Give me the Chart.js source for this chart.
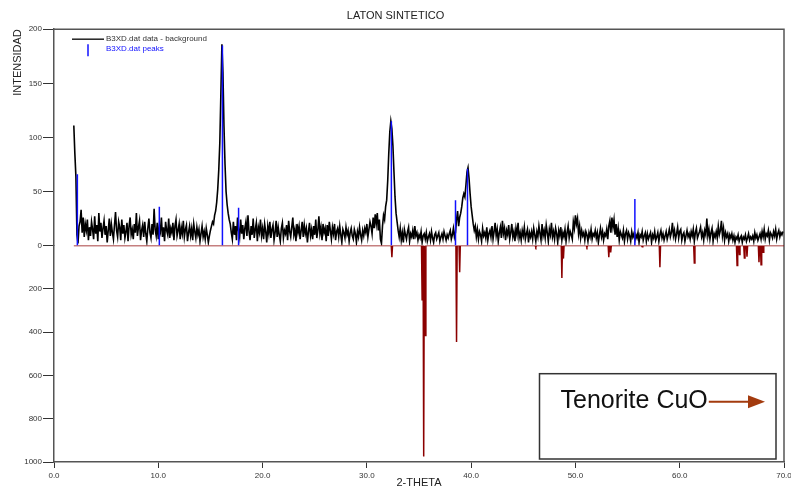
<!DOCTYPE html>
<html>
<head>
<meta charset="utf-8">
<title>LATON SINTETICO</title>
<script src="https://cdn.jsdelivr.net/npm/chart.js@4.4.1/dist/chart.umd.min.js"></script>
<style>
  html, body { margin: 0; padding: 0; background: #fff; }
  canvas { display: block; }
</style>
</head>
<body>
<canvas id="xrdChart" width="791" height="495"></canvas>
<script>
/* ---------- DATA ---------- */
// measured pattern (data - background) on a regular 2-theta grid, one row per degree
const thetaStart = 1.9;
const thetaStep = 0.1;
const bgIntensity = [
  111, 85, 64, 10, 2, 18, 22, 33, 12, 26,
  8, 20, 14, 24, 5, 17, 9, 22, 15, 6,
  27, 11, 19, 4, 30, 13, 21, 7, 16, 23,
  10, 18, 3, 14, 25, 9, 20, 12, 6, 19,
  31, 14, 8, 22, 17, 5, 24, 11, 19, 7,
  13, 21, 4, 18, 26, 10, 15, 6, 20, 12,
  30, 9, 17, 23, 5, 14, 19, 8, 22, 11,
  4, 16, 25, 12, 7, 20, 10, 34, 15, 9,
  21, 6, 18, 13, 26, 8, 17, 4, 22, 14,
  10, 25, 7, 16, 12, 21, 5, 18, 24, 9,
  14, 20, 6, 17, 11, 23, 8, 15, 19, 4,
  12, 18, 9, 16, 5, 20, 13, 7, 17, 10,
  15, 4, 11, 18, 8, 13, 6, 16, 10, 3,
  9, 14, 18, 22, 20, 28, 32, 40, 52, 70,
  95, 140, 186, 160, 110, 75, 50, 38, 30, 24,
  20, 12, 6, 22, 10, 18, 5, 26, 14, 8,
  24, 11, 19, 6, 16, 22, 9, 28, 13, 5,
  18, 10, 25, 7, 15, 21, 4, 17, 12, 24,
  9, 16, 6, 20, 13, 3, 18, 11, 22, 7,
  15, 19, 5, 12, 23, 8, 17, 10, 4, 16,
  21, 7, 14, 11, 19, 5, 23, 13, 8, 17,
  26, 10, 15, 4, 20, 12, 18, 6, 14, 22,
  8, 19, 11, 16, 3, 13, 21, 9, 15, 6,
  18, 10, 24, 7, 14, 27, 11, 17, 5, 20,
  12, 16, 4, 19, 9, 22, 14, 6, 17, 11,
  20, 5, 13, 16, 8, 18, 10, 3, 15, 12,
  7, 17, 10, 14, 4, 12, 16, 9, 6, 15,
  11, 3, 13, 8, 17, 10, 5, 14, 9, 16,
  12, 20, 8, 15, 22, 18, 11, 26, 16, 29,
  20, 30, 14, 24, 6, 2, 18, 28, 24, 36,
  42, 60, 85, 105, 115, 108, 92, 68, 45, 30,
  22, 14, 8, 16, 5, 12, 3, 15, 10, 6,
  13, 17, 4, 11, 8, 14, 6, 18, 9, 12,
  5, 10, 7, 13, 3, 9, 11, 6, 12, 4,
  8, 11, 5, 13, 7, 3, 10, 12, 6, 9,
  12, 4, 8, 11, 6, 13, 9, 5, 10, 7,
  11, 14, 6, 10, 16, 8, 12, 24, 32, 18,
  26, 30, 36, 44, 48, 45, 56, 68, 72, 62,
  48, 36, 28, 20, 14, 18, 8, 15, 6, 13,
  10, 4, 16, 9, 12, 7, 17, 5, 11, 14,
  8, 18, 6, 13, 21, 9, 15, 4, 12, 17,
  7, 23, 11, 16, 5, 14, 10, 19, 6, 12,
  20, 8, 13, 4, 16, 10, 21, 7, 12, 5,
  14, 9, 17, 6, 11, 15, 3, 12, 8, 13,
  6, 16, 10, 4, 13, 8, 18, 11, 5, 20,
  9, 14, 7, 19, 12, 4, 15, 10, 21, 8,
  13, 6, 16, 11, 3, 14, 9, 17, 5, 12,
  8, 15, 4, 12, 18, 7, 13, 10, 6, 22,
  16, 28, 20, 25, 11, 18, 7, 14, 9, 12,
  5, 13, 10, 4, 12, 8, 15, 6, 11, 9,
  14, 7, 12, 3, 10, 16, 8, 13, 5, 11,
  9, 15, 6, 18, 23, 12, 26, 17, 24, 10,
  20, 8, 16, 5, 13, 10, 7, 14, 4, 11,
  14, 6, 12, 9, 4, 13, 8, 11, 5, 10,
  7, 12, 3, 10, 8, 13, 5, 9, 12, 4,
  11, 6, 9, 12, 3, 10, 7, 13, 5, 8,
  12, 4, 10, 14, 7, 11, 5, 9, 13, 6,
  10, 15, 8, 12, 21, 9, 14, 6, 11, 17,
  7, 13, 15, 5, 10, 12, 4, 9, 14, 8,
  11, 6, 13, 9, 15, 4, 12, 16, 7, 10,
  13, 17, 8, 12, 5, 14, 10, 25, 9, 15,
  6, 12, 16, 4, 11, 8, 13, 7, 18, 10,
  14, 23, 9, 16, 5, 12, 8, 11, 4, 10,
  7, 11, 5, 9, 3, 8, 6, 10, 4, 7,
  9, 3, 8, 6, 10, 4, 7, 11, 5, 8,
  6, 9, 4, 12, 7, 10, 5, 8, 11, 6,
  13, 8, 15, 6, 11, 9, 14, 5, 12, 10,
  7, 13, 9, 15, 6, 11, 14, 8, 12, 10,
  13
];

// fitted peak positions (blue sticks)
const peakTheta = [2.24, 10.1, 16.15, 17.7, 32.35, 38.5, 39.65, 55.7];
const peakIntensity = [66, 36, 185, 35, 115, 42, 71, 43];

// Tenorite CuO reference pattern (plotted downwards)
const refTheta = [32.4, 35.3, 35.45, 35.6, 38.6, 38.9, 46.2, 48.7, 48.85, 51.1, 53.2, 53.38, 56.4, 58.1, 61.4, 65.5, 65.72, 66.2, 66.45, 67.6, 67.8, 68.0];
const refIntensity = [54, 250, 975, 415, 445, 123, 6, 150, 60, 6, 54, 31, 5, 100, 80, 92, 41, 57, 51, 77, 89, 31];

const xTicks = [0, 10, 20, 30, 40, 50, 60, 70];
const legendLabels = ["B3XD.dat data - background", "B3XD.dat peaks"];
const boxLabel = "Tenorite CuO";

/* ---------- BUILD SERIES ---------- */
const FONT = "'Liberation Sans', Arial, Helvetica, sans-serif";
Chart.defaults.font.family = FONT;

const bgPoints = bgIntensity.map((v, i) => ({ x: +(thetaStart + i * thetaStep).toFixed(2), y: v }));

const peakPoints = [];
peakTheta.forEach((t, i) => {
    peakPoints.push({ x: t, y: 0 }, { x: t, y: peakIntensity[i] }, { x: t, y: null });
});

const refHalfWidth = 0.06;
const refPoints = [{ x: thetaStart, y: 0 }];
refTheta.forEach((t, i) => {
    refPoints.push({ x: t - refHalfWidth, y: 0 }, { x: t, y: refIntensity[i] }, { x: t + refHalfWidth, y: 0 });
});
refPoints.push({ x: xTicks[xTicks.length - 1], y: 0 });

/* ---------- EXTRA DRAWING ---------- */
const decorPlugin = {
    id: 'decor',
    beforeDatasetsDraw(chart) {
        const { ctx, chartArea: a } = chart;
        ctx.save();
        ctx.strokeStyle = '#555';
        ctx.lineWidth = 1.5;
        ctx.beginPath();
        ctx.moveTo(a.left, a.top);
        ctx.lineTo(a.right, a.top);
        ctx.lineTo(a.right, a.bottom);
        ctx.stroke();
        ctx.restore();
    },
    afterDraw(chart) {
        const { ctx, chartArea: a } = chart;
        ctx.save();

        // legend
        ctx.font = "8px " + FONT;
        ctx.textBaseline = 'middle';
        ctx.textAlign = 'left';
        ctx.strokeStyle = '#222';
        ctx.lineWidth = 1.5;
        ctx.beginPath();
        ctx.moveTo(a.left + 18, a.top + 10);
        ctx.lineTo(a.left + 50, a.top + 10);
        ctx.stroke();
        ctx.fillStyle = '#333';
        ctx.fillText(legendLabels[0], a.left + 52, a.top + 10);

        ctx.strokeStyle = '#1010ff';
        ctx.beginPath();
        ctx.moveTo(a.left + 34, a.top + 15);
        ctx.lineTo(a.left + 34, a.top + 27);
        ctx.stroke();
        ctx.fillStyle = '#1010ff';
        ctx.fillText(legendLabels[1], a.left + 52, a.top + 20);

        // Tenorite box
        const bx = a.left + 485.5, by = a.top + 344.5;
        const bw = a.right - 8 - bx, bh = a.bottom - 3 - by;
        ctx.strokeStyle = '#333';
        ctx.lineWidth = 1.5;
        ctx.strokeRect(bx, by, bw, bh);

        ctx.font = "25px " + FONT;
        ctx.textBaseline = 'alphabetic';
        ctx.fillStyle = '#111';
        const tx = bx + 21, ty = by + 34;
        ctx.fillText(boxLabel, tx, ty);

        const ax0 = tx + ctx.measureText(boxLabel).width + 1;
        const ax1 = a.right - 19, ay = ty - 6;
        ctx.strokeStyle = '#a33b0e';
        ctx.fillStyle = '#a33b0e';
        ctx.lineWidth = 2;
        ctx.beginPath();
        ctx.moveTo(ax0, ay);
        ctx.lineTo(ax1 - 10, ay);
        ctx.stroke();
        ctx.beginPath();
        ctx.moveTo(ax1, ay);
        ctx.lineTo(ax1 - 17, ay - 6.5);
        ctx.lineTo(ax1 - 17, ay + 6.5);
        ctx.closePath();
        ctx.fill();

        ctx.restore();
    }
};

/* ---------- CHART ---------- */
new Chart(document.getElementById('xrdChart'), {
    type: 'line',
    data: {
        datasets: [
            { label: legendLabels[1], data: peakPoints, yAxisID: 'y', borderColor: '#1010ff', borderWidth: 1.5, pointRadius: 0, spanGaps: false },
            { label: 'Tenorite CuO', data: refPoints, yAxisID: 'y2', borderColor: '#8b0000', borderWidth: 1.5, pointRadius: 0 },
            { label: legendLabels[0], data: bgPoints, yAxisID: 'y', borderColor: '#000', borderWidth: 1.6, pointRadius: 0 }
        ]
    },
    options: {
        responsive: false,
        animation: false,
        layout: { padding: 0 },
        plugins: {
            legend: { display: false },
            tooltip: { enabled: false },
            title: {
                display: true, text: 'LATON SINTETICO', color: '#222',
                font: { size: 11, weight: 'normal' }, padding: { top: 9, bottom: 7 }
            }
        },
        scales: {
            x: {
                type: 'linear', min: 0, max: 70,
                afterBuildTicks: s => { s.ticks = xTicks.map(v => ({ value: v })); },
                ticks: { callback: v => Number(v).toFixed(1), font: { size: 8 }, color: '#333', padding: 3, maxRotation: 0 },
                grid: { drawOnChartArea: false, tickLength: 6, color: '#333' },
                border: { color: '#555', width: 1.5 },
                title: { display: true, text: '2-THETA', color: '#222', font: { size: 11 }, padding: { top: 0, bottom: 5 } },
                afterFit: s => { s.height = 33; s.paddingLeft = 0; s.paddingRight = 7; }
            },
            y2: {
                type: 'linear', position: 'left', stack: 'xrd', weight: 0,
                min: 0, max: 1000, reverse: true,
                ticks: { stepSize: 200, callback: v => v === 0 ? '' : v, font: { size: 8 }, color: '#333', padding: 1 },
                grid: { drawOnChartArea: false, tickLength: 11, color: '#333' },
                border: { color: '#555', width: 1.5 },
                afterFit: s => { s.width = 54; }
            },
            y: {
                type: 'linear', position: 'left', stack: 'xrd', weight: 1,
                min: 0, max: 200,
                ticks: { stepSize: 50, font: { size: 8 }, color: '#333', padding: 1 },
                grid: { drawOnChartArea: false, tickLength: 11, color: '#333' },
                border: { color: '#555', width: 1.5 },
                title: { display: true, text: 'INTENSIDAD', align: 'end', color: '#222', font: { size: 11 }, padding: { top: 11, bottom: 0 } },
                afterFit: s => { s.width = 54; }
            }
        }
    },
    plugins: [decorPlugin]
});
</script>
</body>
</html>
